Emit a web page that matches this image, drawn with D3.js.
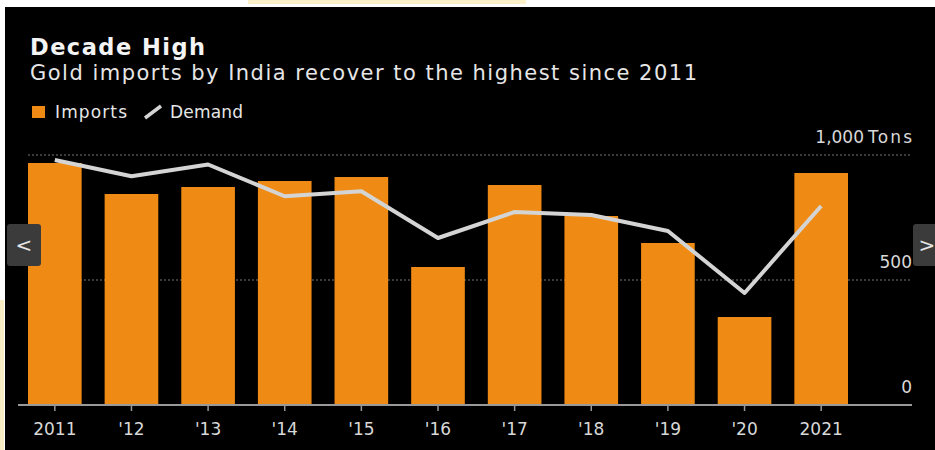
<!DOCTYPE html>
<html>
<head>
<meta charset="utf-8">
<script src="https://cdnjs.cloudflare.com/ajax/libs/d3/7.8.5/d3.min.js"></script>
<style>
  body { margin: 0; background: #fff; }
  svg { display: block; }
  text { font-family: "DejaVu Sans", sans-serif; fill: #e6e6e6; }
  .title { font-weight: bold; font-size: 22.5px; fill: #f4f4f4; }
  .subtitle { font-size: 21px; }
  .legend { font-size: 17px; }
  .tick-label { font-size: 17px; fill: #d8d8d8; }
</style>
</head>
<body>
<script>
// chart data
var years = ["2011", "'12", "'13", "'14", "'15", "'16", "'17", "'18", "'19", "'20", "2021"];
var imports = [968, 844, 872, 896, 912, 552, 880, 756, 648, 352, 928];
var demand = [980, 915, 962, 835, 855, 668, 772, 760, 696, 448, 796];
var yTicks = [0, 500, 1000];

var width = 935, height = 450;

var svg = d3.select("body").append("svg")
    .attr("width", width)
    .attr("height", height);

// top strip and dark panel
svg.append("rect").attr("x", 248).attr("y", 0).attr("width", 278).attr("height", 4).attr("fill", "#fbf0c8");
svg.append("rect").attr("x", 0).attr("y", 300).attr("width", 4).attr("height", 150).attr("fill", "#f7ecc4");
svg.append("rect").attr("x", 5).attr("y", 7).attr("width", width - 5).attr("height", height - 7).attr("fill", "#000");

svg.append("text").attr("class", "title").attr("x", 30).attr("y", 55)
    .attr("textLength", 175).attr("lengthAdjust", "spacing").text("Decade High");
svg.append("text").attr("class", "subtitle").attr("x", 30).attr("y", 80)
    .attr("textLength", 667).attr("lengthAdjust", "spacing")
    .text("Gold imports by India recover to the highest since 2011");

// legend
var leg = svg.append("g").attr("class", "legend");
leg.append("rect").attr("x", 32).attr("y", 106).attr("width", 13).attr("height", 12).attr("fill", "#ef8b14");
leg.append("text").attr("x", 55).attr("y", 118).attr("textLength", 72).attr("lengthAdjust", "spacing").text("Imports");
leg.append("line").attr("x1", 145).attr("y1", 118).attr("x2", 161).attr("y2", 106)
    .attr("stroke", "#d4d4d4").attr("stroke-width", 3.5);
leg.append("text").attr("x", 170).attr("y", 118).attr("textLength", 73).attr("lengthAdjust", "spacing").text("Demand");

var x = d3.scaleBand().domain(years).range([16.5, 859.5]).paddingInner(0.3).paddingOuter(0.15);
var y = d3.scaleLinear().domain([0, 1000]).range([405, 155]);

// gridlines
svg.append("g").selectAll("line").data(yTicks.filter(d => d > 0)).join("line")
    .attr("x1", 28).attr("x2", 912)
    .attr("y1", d => y(d)).attr("y2", d => y(d))
    .attr("stroke", "#777").attr("stroke-width", 1.2).attr("stroke-dasharray", "2,2");

// y labels (right side, above gridline)
svg.append("g").selectAll("text").data(yTicks).join("text")
    .attr("class", "tick-label")
    .attr("x", d => d === 1000 ? 864 : 912)
    .attr("y", d => y(d) - 12)
    .attr("text-anchor", "end")
    .text(d => d3.format(",")(d));
svg.append("text").attr("class", "tick-label").attr("x", 868).attr("y", y(1000) - 12)
    .attr("textLength", 44).attr("lengthAdjust", "spacing").text("Tons");

// bars
svg.append("g").selectAll("rect").data(imports).join("rect")
    .attr("x", (d, i) => x(years[i]))
    .attr("y", d => y(d))
    .attr("width", x.bandwidth())
    .attr("height", d => y(0) - y(d))
    .attr("fill", "#ef8b14");

// x axis
var xAxis = svg.append("g").attr("transform", "translate(0," + y(0) + ")")
    .call(d3.axisBottom(x).tickSize(6).tickPadding(12).tickSizeOuter(0));
xAxis.attr("font-family", null).attr("font-size", null);
xAxis.select(".domain").attr("d", "M18,0H912").attr("stroke", "#999").attr("stroke-width", 2);
xAxis.selectAll(".tick line").attr("stroke", "#999").attr("stroke-width", 1.5);
xAxis.selectAll(".tick text").attr("class", "tick-label").attr("fill", null);

// demand line
var line = d3.line()
    .x((d, i) => x(years[i]) + x.bandwidth() / 2)
    .y(d => y(d));
svg.append("path").datum(demand)
    .attr("d", line)
    .attr("fill", "none")
    .attr("stroke", "#d4d4d4")
    .attr("stroke-width", 4)
    .attr("stroke-linejoin", "round");

// carousel arrows
function arrow(x0, w, ch) {
    var g = svg.append("g");
    g.append("rect").attr("x", x0).attr("y", 224).attr("width", w).attr("height", 42).attr("rx", 3).attr("fill", "#3b3b3b");
    g.append("text").attr("x", x0 + (ch === "<" ? w / 2 : 14)).attr("y", 252).attr("text-anchor", "middle")
        .style("font-size", "20px").attr("fill", "#f0f0f0").text(ch);
}
arrow(7, 34, "<");
arrow(913, 24, ">");
</script>
</body>
</html>
